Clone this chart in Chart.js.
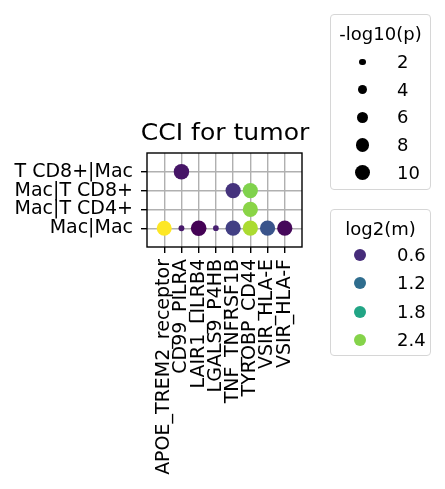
<!DOCTYPE html>
<html>
<head>
<meta charset="utf-8">
<script src="https://cdn.jsdelivr.net/npm/chart.js@4.4.1/dist/chart.umd.min.js"></script>
<style>
  html, body { margin: 0; padding: 0; background: #fff; }
  #wrap { position: relative; width: 445px; height: 489px; font-family: 'DejaVu Sans', sans-serif; color: #000; }
  canvas { position: absolute; left: 0; top: 0; }
  #title { position: absolute; left: 224.5px; top: 121.3px; font-size: 23px; line-height: 23px; white-space: nowrap;
           transform: translateX(-50%) scaleX(1.09); transform-origin: center; }
  .lbox { position: absolute; border: 1.3px solid #d6d6d6; border-radius: 4px; background: #fff; box-sizing: border-box; }
  .ltitle { position: absolute; left: 0; right: 0; text-align: center; font-size: 18px; line-height: 18px; }
  .ldot { position: absolute; border-radius: 50%; }
  .ltext { position: absolute; font-size: 18px; line-height: 18px; }
</style>
</head>
<body>
<div id="wrap">
  <canvas id="c" width="445" height="489"></canvas>
  <div id="title">CCI for tumor</div>
</div>
<script>
// ---- data ----
const interactions = ['APOE_TREM2_receptor', 'CD99_PILRA', 'LAIR1_LILRB4', 'LGALS9_P4HB', 'TNF_TNFRSF1B', 'TYROBP_CD44', 'VSIR_HLA-E', 'VSIR_HLA-F'];
const cellPairs = ['Mac|Mac', 'Mac|T CD4+', 'Mac|T CD8+', 'T CD8+|Mac'];

const pointInteraction = ['CD99_PILRA', 'TNF_TNFRSF1B', 'TYROBP_CD44', 'TYROBP_CD44', 'APOE_TREM2_receptor', 'CD99_PILRA', 'LAIR1_LILRB4', 'LGALS9_P4HB', 'TNF_TNFRSF1B', 'TYROBP_CD44', 'VSIR_HLA-E', 'VSIR_HLA-F'];
const pointPair        = ['T CD8+|Mac', 'Mac|T CD8+', 'Mac|T CD8+', 'Mac|T CD4+', 'Mac|Mac', 'Mac|Mac', 'Mac|Mac', 'Mac|Mac', 'Mac|Mac', 'Mac|Mac', 'Mac|Mac', 'Mac|Mac'];
const log2m            = [0.42, 0.65, 2.38, 2.42, 2.88, 0.45, 0.28, 0.50, 0.75, 2.55, 0.95, 0.32];
const negLog10p        = [10.4, 10.0, 10.0, 10.0, 9.8, 1.5, 10.6, 1.4, 10.0, 10.0, 10.0, 10.0];

const sizeLegendValues = [2, 4, 6, 8, 10];
const colorLegendValues = [0.6, 1.2, 1.8, 2.4];
const colorMin = 0.27, colorMax = 2.88;

// ---- helpers ----
const viridisStops = ['#440154', '#482475', '#414487', '#355f8d', '#2a788e', '#21918c', '#22a884', '#44bf70', '#7ad151', '#bddf26', '#fde725'];
function hexToRgb(h) { return [1, 3, 5].map(i => parseInt(h.substr(i, 2), 16)); }
function viridis(v) {
  let t = (v - colorMin) / (colorMax - colorMin);
  t = Math.max(0, Math.min(1, t));
  const p = t * (viridisStops.length - 1);
  const i = Math.min(Math.floor(p), viridisStops.length - 2);
  const f = p - i;
  const a = hexToRgb(viridisStops[i]), b = hexToRgb(viridisStops[i + 1]);
  const c = a.map((x, k) => Math.round(x + (b[k] - x) * f));
  return `rgb(${c[0]},${c[1]},${c[2]})`;
}
function radius(p) { return 2.4 * Math.sqrt(p); }

const points = pointInteraction.map((name, i) => ({
  x: interactions.indexOf(name),
  y: cellPairs.indexOf(pointPair[i]),
  m: log2m[i],
  p: negLog10p[i]
}));

const FONT = 'DejaVu Sans';
const frame = {
  id: 'frame',
  afterDraw(chart) {
    const { ctx, chartArea: a } = chart;
    ctx.save();
    ctx.strokeStyle = '#000';
    ctx.lineWidth = 1.4;
    ctx.strokeRect(a.left, a.top, a.right - a.left, a.bottom - a.top);
    ctx.restore();
  }
};

new Chart(document.getElementById('c'), {
  type: 'scatter',
  data: {
    datasets: [{
      data: points,
      backgroundColor: ctx => viridis(ctx.raw.m),
      pointRadius: ctx => radius(ctx.raw.p),
      pointHoverRadius: ctx => radius(ctx.raw.p),
      borderWidth: 0
    }]
  },
  options: {
    responsive: false,
    animation: false,
    devicePixelRatio: 1,
    layout: { padding: { left: 0, right: 143, top: 153, bottom: 0 } },
    plugins: {
      legend: { display: false },
      tooltip: { enabled: false },
      title: { display: false }
    },
    scales: {
      x: {
        type: 'linear', min: -1, max: 8, z: 1,
        afterBuildTicks: ax => { ax.ticks = interactions.map((_, i) => ({ value: i })); },
        afterFit: s => { s.height = 242; },
        ticks: {
          callback: v => interactions[v], autoSkip: false, maxRotation: 90, minRotation: 90,
          color: '#000', font: { family: FONT, size: 19 }, padding: 6
        },
        grid: { color: '#b0b0b0', lineWidth: 1.4, tickColor: '#000', tickLength: 6, tickWidth: 1.4 },
        border: { display: false }
      },
      y: {
        type: 'linear', min: -1, max: 4, z: 1,
        afterBuildTicks: ax => { ax.ticks = cellPairs.map((_, i) => ({ value: i })); },
        afterFit: s => { s.width = 147; },
        ticks: {
          callback: v => cellPairs[v], autoSkip: false,
          color: '#000', font: { family: FONT, size: 19 }, padding: 8
        },
        grid: { color: '#b0b0b0', lineWidth: 1.4, tickColor: '#000', tickLength: 6, tickWidth: 1.4 },
        border: { display: false }
      }
    }
  },
  plugins: [frame]
});

// ---- legends (HTML) ----
const wrap = document.getElementById('wrap');
function legendBox(top, height, title, values, dotFn, firstRowY, rowStep, dotX) {
  const box = document.createElement('div');
  box.className = 'lbox';
  Object.assign(box.style, { left: '330px', top: top + 'px', width: '101px', height: height + 'px' });
  const t = document.createElement('div');
  t.className = 'ltitle';
  t.textContent = title;
  t.style.top = (19 - 9) + 'px';
  box.appendChild(t);
  values.forEach((v, i) => {
    const cy = firstRowY + i * rowStep;
    const d = dotFn(v);
    const dot = document.createElement('div');
    dot.className = 'ldot';
    Object.assign(dot.style, { left: (dotX - d.r) + 'px', top: (cy - d.r) + 'px', width: 2 * d.r + 'px', height: 2 * d.r + 'px', background: d.c });
    box.appendChild(dot);
    const tx = document.createElement('div');
    tx.className = 'ltext';
    tx.textContent = String(v);
    Object.assign(tx.style, { left: '66px', top: (cy - 9) + 'px' });
    box.appendChild(tx);
  });
  wrap.appendChild(box);
}
legendBox(14, 176, '-log10(p)', sizeLegendValues, v => ({ r: radius(v), c: '#000' }), 47, 27.7, 31.5);
legendBox(209, 147, 'log2(m)', colorLegendValues, v => ({ r: 6, c: viridis(v) }), 45, 28.3, 28.5);
</script>
</body>
</html>
